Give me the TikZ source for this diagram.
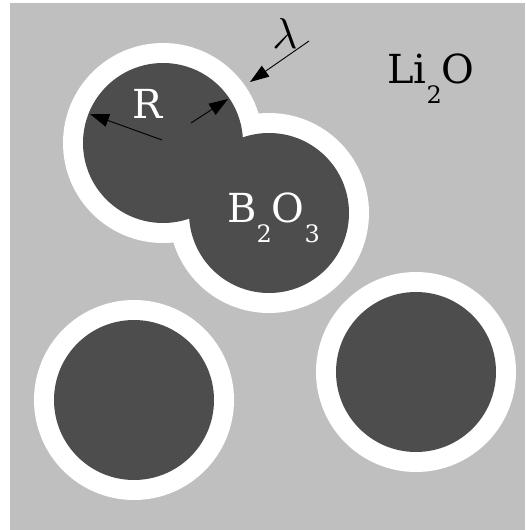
\documentclass[tikz,border=0pt]{standalone}
\usepackage{fontspec}
\setmainfont{DejaVu Serif}
\usetikzlibrary{arrows.meta}
\definecolor{matrixgray}{RGB}{191,191,191}
\definecolor{graindark}{RGB}{77,77,77}
\newcommand{\lowsub}[1]{\raisebox{-20pt}{\fontsize{24}{24}\selectfont #1}}
\begin{document}
\begin{tikzpicture}[x=1pt,y=-1pt,
  halo/.style={fill=white},
  grain/.style={fill=graindark},
  dimarrow/.style={line width=0.9pt,-{Triangle[length=19pt,width=13pt]}},
  bigtext/.style={font=\fontsize{40}{40}\selectfont,inner sep=0pt}]
\useasboundingbox (0,0) rectangle (525,530);
% Li2O matrix
\fill[matrixgray] (10,3) rectangle (525,530);
% grain centres
\coordinate (g1) at (163,143);
\coordinate (g2) at (269,213);
\coordinate (g3) at (134,400);
\coordinate (g4) at (416,372);
% white interface layers (thickness lambda), then the B2O3 grains (radius R)
\foreach \g in {g1,g2,g3,g4} \fill[halo] (\g) circle[radius=100];
\foreach \g in {g1,g2,g3,g4} \fill[grain] (\g) circle[radius=80];
% dimension arrows
\coordinate (rstart) at (162,140);
\coordinate (rend) at (90,114);
\coordinate (rbstart) at (191,123);
\coordinate (rbend) at (228,99);
\coordinate (lstart) at (309,41);
\coordinate (lend) at (250,82);
\draw[dimarrow] (rstart) -- (rend);
\draw[dimarrow] (rbstart) -- (rbend);
\draw[dimarrow] (lstart) -- (lend);
% labels
\node[bigtext,text=white,anchor=base west] (rlabel) at (132,118) {R};
\node[inner sep=0pt] (lambdalabel) at (285,33) {\resizebox{!}{30pt}{$\lambda$}};
\node[bigtext,anchor=base west] (lilabel) at (387,83) {Li\lowsub{2}O};
\node[bigtext,text=white,anchor=base west] (blabel) at (227,222) {B\lowsub{2}O\lowsub{3}};
\end{tikzpicture}
\end{document}
